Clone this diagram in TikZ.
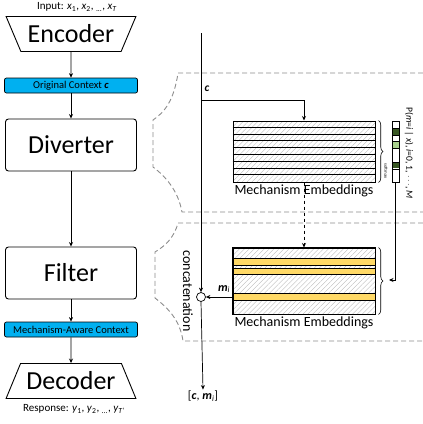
\documentclass[tikz,border=0pt]{standalone}
\usepackage{fontspec}
\setmainfont{Carlito}
\usetikzlibrary{arrows.meta,shapes.geometric,patterns.meta,decorations.pathreplacing,positioning}

\definecolor{ctxblue}{HTML}{00B0F0}
\definecolor{mechyellow}{HTML}{FFD966}
\definecolor{darkgreen}{HTML}{385723}
\definecolor{lightgreen}{HTML}{A9D18E}
\definecolor{dashgray}{HTML}{8C8C8C}

\newcommand{\bi}[1]{\textbf{\textit{#1}}}

\tikzset{
  module/.style={draw, rounded corners=3pt, minimum width=131pt, minimum height=52pt,
    font=\fontsize{26}{28}\selectfont, line width=0.9pt},
  ctxbar/.style={draw, fill=ctxblue, rounded corners=2pt, minimum width=133pt,
    minimum height=15pt, inner sep=0pt, font=\fontsize{10.5}{11}\selectfont, line width=0.7pt},
  coder/.style={draw, trapezium, trapezium stretches=true, trapezium angle=55,
    minimum width=130pt, minimum height=35pt, inner sep=0pt,
    font=\fontsize{26}{28}\selectfont, line width=0.9pt},
  flow/.style={-{Stealth[length=4.5pt,width=4pt]}, line width=0.7pt},
  hatched/.style={pattern={Lines[angle=45,distance=3.5pt,line width=0.35pt]}, pattern color=gray!55},
  embbox/.style={draw, hatched, minimum width=142pt, inner sep=0pt, line width=1pt},
  region/.style={dashgray, dash pattern=on 5pt off 3pt, line width=0.9pt},
  embname/.style={font=\fontsize{14}{15}\selectfont, inner sep=1pt},
}

\begin{document}
\begin{tikzpicture}[x=1pt, y=-1pt, font=\fontsize{11}{13}\selectfont]
\useasboundingbox (0,0) rectangle (423,424);

% left column
\node (input) at (77,7) {Input: \textit{x}\textsubscript{1}, \textit{x}\textsubscript{2}, \textsubscript{...}, \textit{x}\textsubscript{\textit{T}}};
\node[coder, shape border rotate=180] (encoder) at (71,34) {Encoder};
\node[ctxbar] (origctx) at (71,85.5) {Original Context \bi{c}};
\node[module] (diverter) at (71,145) {Diverter};
\node[module] (filter) at (71,273) {Filter};
\node[ctxbar] (awarectx) at (71,329.5) {Mechanism-Aware Context};
\node[coder] (decoder) at (71,381) {Decoder};
\node (response) at (74,409) {Response: \textit{y}\textsubscript{1}, \textit{y}\textsubscript{2}, \textsubscript{...}, \textit{y}\textsubscript{\textit{T'}}};

\draw[flow] (encoder.south) -- (origctx.north);
\draw[flow] (origctx.south) -- (diverter.north);
\draw[flow] (diverter.south) -- (filter.north);
\draw[flow] (filter.south) -- (awarectx.north);
\draw[flow] (awarectx.south) -- (decoder.north);

% dashed regions
\draw[region] (423,73) -- (178,73) .. controls (174,100) and (165,112) .. (153,120)
  -- (153,167) .. controls (165,176) and (178,190) .. (182,212) -- (423,212);
\draw[region] (423,223) -- (178,223) .. controls (174,238) and (165,246) .. (155,252)
  -- (155,298) .. controls (168,308) and (180,320) .. (183,341) -- (423,341);

% mechanism embeddings
\node[embbox, minimum height=61pt] (allmech) at (304,151.5) {};
\foreach \k in {1,...,8}
  \draw[line width=0.9pt] ([yshift=-\k*6.78pt]allmech.north west) -- ([yshift=-\k*6.78pt]allmech.north east);
\node[embname, below=1pt of allmech] (allname) {Mechanism Embeddings};
\draw[decorate, decoration={brace, amplitude=4.5pt}, line width=0.6pt]
  ([xshift=3pt]allmech.north east) -- ([xshift=3pt]allmech.south east);
\node[rotate=-90, font=\fontsize{4.5}{5}\selectfont] (softmax) at (386,171) {softmax};

\node[embbox, minimum height=66pt] (selmech) at (304,281) {};
\foreach \ya/\yb in {258/265, 268/274, 293/300}
  \draw[fill=mechyellow, line width=0.9pt] (233,\ya) rectangle (375,\yb);
\draw[line width=1pt] (selmech.north west) rectangle (selmech.south east);
\node[embname, below=1pt of selmech] (selname) {Mechanism Embeddings};
\draw[decorate, decoration={brace, amplitude=4.5pt}, line width=0.6pt]
  ([xshift=3pt]selmech.north east) -- ([xshift=3pt]selmech.south east);

\draw[flow, dashed] (allmech.south) -- (selmech.north);

% probability vector
\foreach \k/\col in {0/white,1/darkgreen,2/white,3/lightgreen,4/white,5/white,6/darkgreen,7/white,8/white}
  \fill[\col] (392,121+\k*6.78) rectangle ++(7,6.78);
\draw[line width=0.5pt] (392,128) -- (399,128) (392,135) -- (399,135) (392,141.5) -- (399,141.5)
  (392,148) -- (399,148) (392,162) -- (399,162) (392,169) -- (399,169);
\draw[line width=0.6pt] (392,121) rectangle (399,182);
\coordinate (probbot) at (395.5,182);
\coordinate (seltip) at (389,280);
\node[rotate=-90, font=\fontsize{9.5}{10}\selectfont] (problabel) at (409,153)
  {P(\textit{m}=\textit{i} | \textit{x}), \textit{i}=0, 1, $\cdots$, \textit{M}};
\draw[flow] (probbot) |- (seltip);

% context path
\coordinate (ctop) at (201,33);
\coordinate (cbranch) at (201,100);
\node[circle, draw, fill=white, minimum size=9pt, inner sep=0pt, line width=0.7pt] (concat) at (201,297) {};
\draw[flow] (ctop) -- (concat.north);
\draw[flow] (cbranch) -| (allmech.north);
\node[font=\fontsize{11.5}{12}\selectfont] (clabel) at (207,89) {\bi{c}};
\coordinate (mistart) at (233,297);
\draw[flow] (mistart) -- (concat.east);
\node[font=\fontsize{12}{13}\selectfont] (milabel) at (224,289) {\bi{m}\textsubscript{\textit{i}}};
\node[rotate=-90, font=\fontsize{14}{15}\selectfont] (concatlabel) at (188,291) {concatenation};
\node[font=\fontsize{12}{13}\selectfont, inner sep=1pt] (output) at (203,396) {[\bi{c}, \bi{m}\textsubscript{\textit{i}}]};
\draw[flow] (concat.south) -- (output.north);
\end{tikzpicture}
\end{document}
